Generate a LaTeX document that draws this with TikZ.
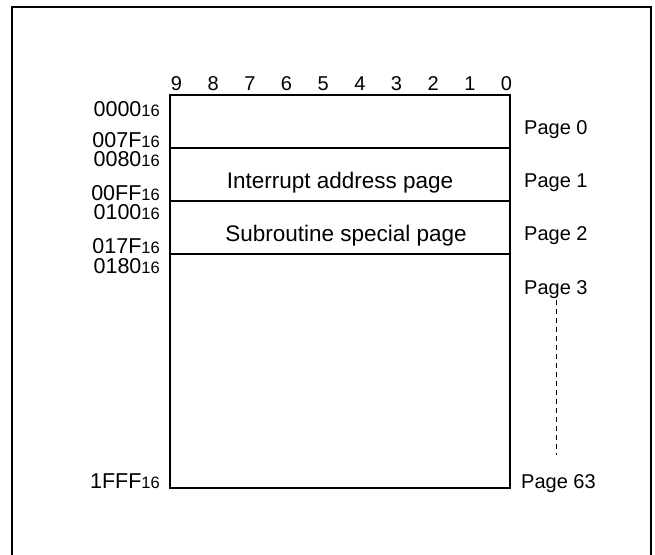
\documentclass[tikz,border=0pt]{standalone}
\usepackage{fontspec}
\setmainfont{Liberation Sans}
\newcommand\hexsub[1]{{\fontsize{16.5}{16.5}\selectfont #1}}
\begin{document}
\begin{tikzpicture}[x=1pt,y=-1pt,
  lbl/.style={font=\fontsize{20}{20}\selectfont, inner sep=0pt},
  addr/.style={font=\fontsize{21.5}{21.5}\selectfont, inner sep=0pt, anchor=base east},
  pg/.style={lbl, anchor=base west},
  bit/.style={lbl, anchor=base},
  mid/.style={font=\fontsize{22.5}{22.5}\selectfont, inner sep=0pt, anchor=base},
  divider/.style={line width=1.2pt},
  frameline/.style={line width=2.5pt}]
\useasboundingbox (0,0) rectangle (655,554);
% outer frame (open at the bottom of the picture)
\draw[frameline] (12,600) -- (12,7) -- (651,7) -- (651,600);
% memory box
\node[draw, line width=2pt, minimum width=340pt, minimum height=393pt,
      anchor=north west, inner sep=0pt, outer sep=0pt] (mem) at (170,95) {};
\draw[divider] (170,148) -- (510,148);
\draw[divider] (170,201) -- (510,201);
\draw[divider] (170,254) -- (510,254);
% bit numbers
\foreach \b [count=\i from 0] in {9,8,7,6,5,4,3,2,1,0}
  \node[bit] (b\b) at (176.5+36.67*\i, 90) {\b};
% addresses
\node[addr] (a0000) at (160,116) {0000\hexsub{16}};
\node[addr] (a007F) at (160,147.5) {007F\hexsub{16}};
\node[addr] (a0080) at (160,166.5) {0080\hexsub{16}};
\node[addr] (a00FF) at (160,200.5) {00FF\hexsub{16}};
\node[addr] (a0100) at (160,219.5) {0100\hexsub{16}};
\node[addr] (a017F) at (160,253.5) {017F\hexsub{16}};
\node[addr] (a0180) at (160,273.5) {0180\hexsub{16}};
\node[addr] (a1FFF) at (160,488) {1FFF\hexsub{16}};
% inner labels
\node[mid] (intr) at (340,188) {Interrupt address page};
\node[mid] (subr) at (346,241) {Subroutine special page};
% pages
\node[pg] (p0) at (524,134) {Page 0};
\node[pg] (p1) at (524,187) {Page 1};
\node[pg] (p2) at (524,240) {Page 2};
\node[pg] (p3) at (524,294) {Page 3};
\node[pg] (p63) at (521,488) {Page 63};
\coordinate (dtop) at (556,300);
\coordinate (dbot) at (556,455);
\draw[line width=1pt, dash pattern=on 5pt off 4pt] (dtop) -- (dbot);
\end{tikzpicture}
\end{document}
